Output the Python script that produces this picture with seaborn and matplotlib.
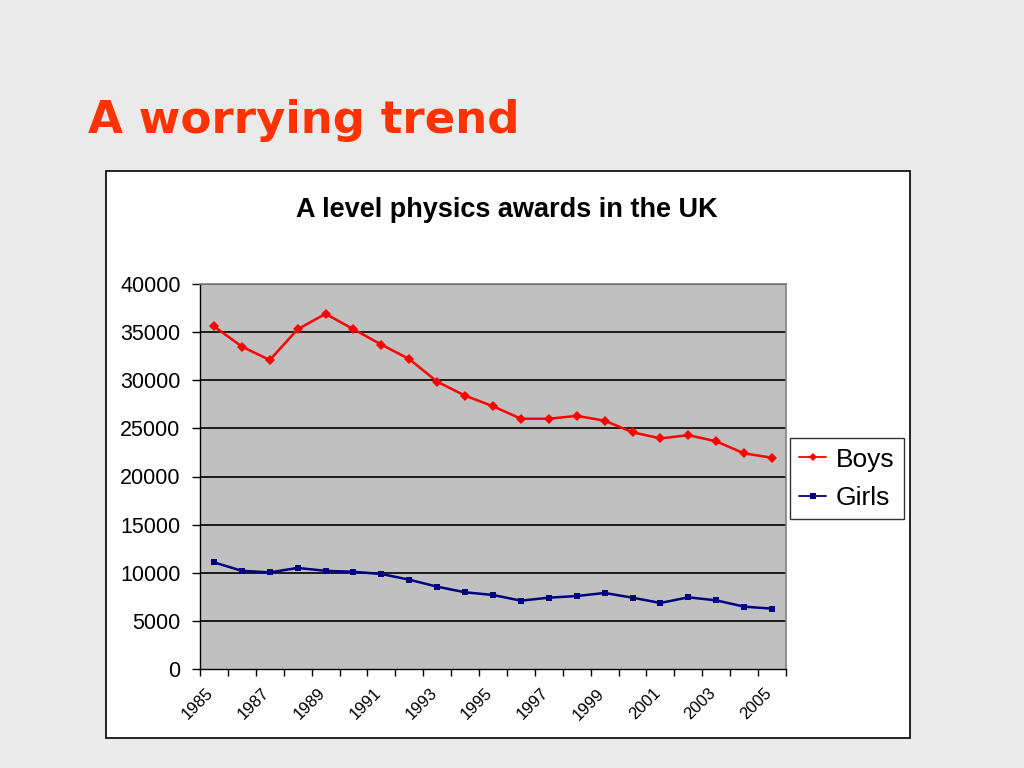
import numpy as np
import pandas as pd
import matplotlib
matplotlib.use("Agg")
import matplotlib.pyplot as plt
import matplotlib.transforms as mtransforms
from matplotlib.patches import Rectangle
from matplotlib.ticker import FixedLocator
import seaborn as sns

years = list(range(1985, 2006))
boys = [35600, 33500, 32100, 35300, 36900, 35300, 33700, 32200, 29850, 28400, 27300,
        26000, 26000, 26300, 25800, 24600, 23950, 24300, 23650, 22400, 21950]
girls = [11080, 10200, 10040, 10500, 10200, 10100, 9870, 9280, 8550, 7970, 7690,
         7100, 7410, 7580, 7900, 7410, 6860, 7450, 7130, 6480, 6270]
series_names = ["Boys", "Girls"]
y_ticks = [0, 5000, 10000, 15000, 20000, 25000, 30000, 35000, 40000]

df = pd.DataFrame({
    "year": years * 2,
    "awards": boys + girls,
    "sex": [series_names[0]] * len(years) + [series_names[1]] * len(years),
})

sns.set_style("white")
plt.rcParams["font.family"] = ["Liberation Sans", "DejaVu Sans"]
plt.rcParams["text.color"] = "black"
plt.rcParams["xtick.color"] = "black"
plt.rcParams["ytick.color"] = "black"

fig = plt.figure(figsize=(10.24, 7.68), dpi=100)
fig.patch.set_facecolor("#eaeaea")

# white chart box behind the axes
box = Rectangle((0.1035, 0.039), 0.785, 0.738, transform=fig.transFigure,
                facecolor="white", edgecolor="black", linewidth=1.2, zorder=-5)
fig.add_artist(box)

# slide title
fig.text(88 / 1024, 1 - 133 / 768, "A worrying trend", color="#ff3300", fontsize=32.5,
         fontweight="bold", family="DejaVu Sans", ha="left", va="baseline")
fig.text(507 / 1024, 1 - 217 / 768, "A level physics awards in the UK", fontsize=19.5,
         fontweight="bold", ha="center", va="baseline")

ax = fig.add_axes([200 / 1024, 1 - 669 / 768, 586 / 1024, 385 / 768])
ax.set_facecolor("#c0c0c0")

sns.lineplot(data=df, x="year", y="awards", hue="sex", style="sex",
             palette={"Boys": "#ff0000", "Girls": "#000080"},
             markers={"Boys": "D", "Girls": "s"}, dashes=False,
             markersize=5, markeredgewidth=0, linewidth=1.8, ax=ax, zorder=3)

ax.set_xlim(years[0] - 0.5, years[-1] + 0.5)
ax.set_ylim(0, 40000)
ax.set_yticks(y_ticks)
ax.set_yticklabels([str(v) for v in y_ticks], fontsize=15.5)
for v in y_ticks[1:]:
    ax.axhline(v, color="black", linewidth=1.2, zorder=1)

ax.xaxis.set_minor_locator(FixedLocator([y - 0.5 for y in years] + [years[-1] + 0.5]))
ax.tick_params(axis="x", which="major", length=0, pad=12)
ax.tick_params(axis="x", which="minor", length=5, width=1, color="black", direction="out")
ax.tick_params(axis="y", length=6, width=1, color="black", direction="out", pad=8)
ax.xaxis.set_ticks_position("bottom")
ax.yaxis.set_ticks_position("left")

ax.set_xticks(years[::2])
ax.set_xticklabels([str(y) for y in years[::2]], rotation=45, ha="right",
                   rotation_mode="anchor", fontsize=12)
# Excel-style rotated labels sit a little left of the category centre
shift = mtransforms.ScaledTranslation(-8 / 100, 0, fig.dpi_scale_trans)
for lbl in ax.get_xticklabels():
    lbl.set_transform(lbl.get_transform() + shift)

for side in ["left", "bottom"]:
    ax.spines[side].set_color("black")
    ax.spines[side].set_linewidth(1)
for side in ["top", "right"]:
    ax.spines[side].set_color("#808080")
    ax.spines[side].set_linewidth(1.2)

ax.set_xlabel("")
ax.set_ylabel("")

handles, labels = ax.get_legend_handles_labels()
leg = ax.legend(handles, labels, loc="center left", bbox_to_anchor=(1.006, 0.494),
                borderaxespad=0, fontsize=19, frameon=True, fancybox=False,
                edgecolor="black", handlelength=1.05, handletextpad=0.35,
                borderpad=0.35, labelspacing=0.55)
leg.get_frame().set_linewidth(1)
for h in leg.get_lines():
    h.set_linewidth(1.3)
    h.set_markersize(4)

fig.savefig("out.png", dpi=100, facecolor=fig.get_facecolor())
